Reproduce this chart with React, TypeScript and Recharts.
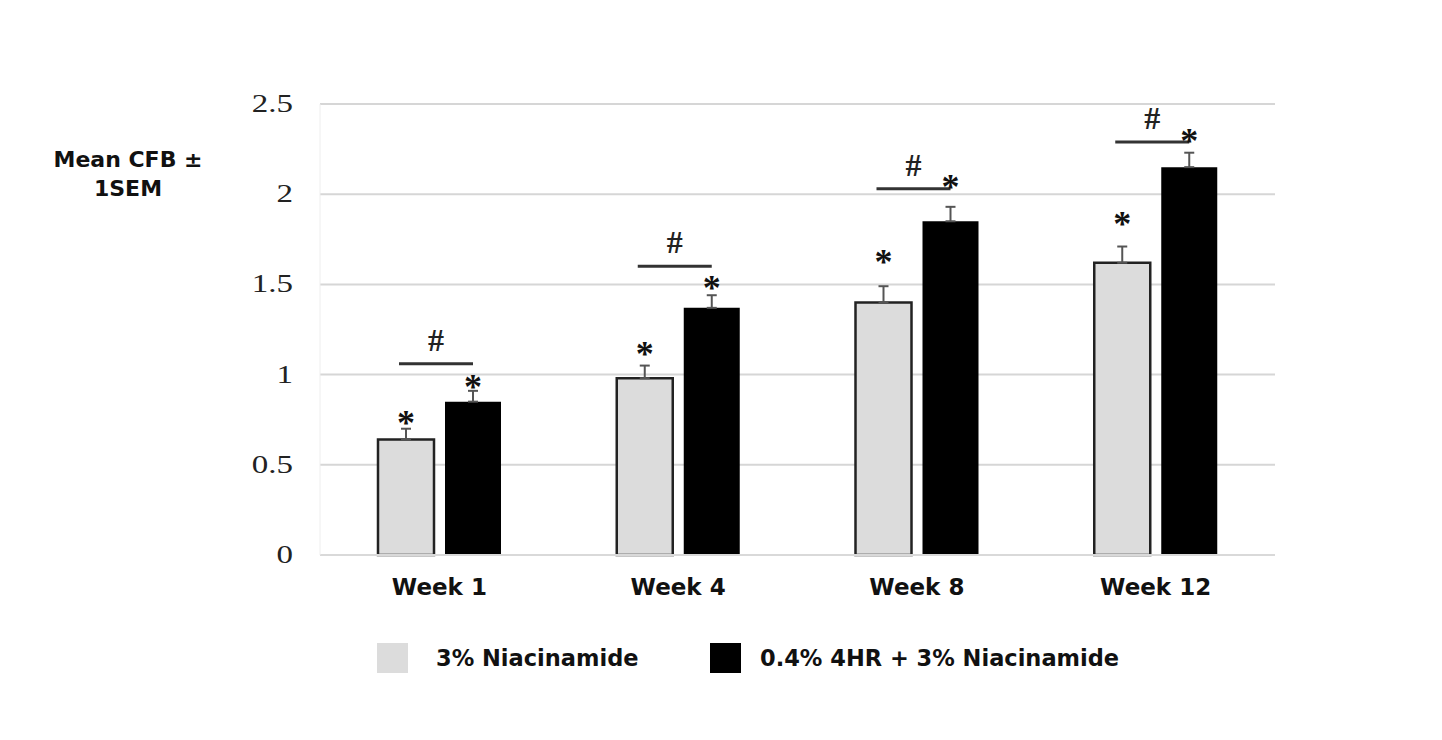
import React from "react";
import { BarChart, Bar, XAxis, YAxis, CartesianGrid, ErrorBar, LabelList } from "recharts";

const weeks = ["Week 1", "Week 4", "Week 8", "Week 12"];
const niacinamide = [0.64, 0.98, 1.4, 1.62];
const niacinamideSem = [0.06, 0.07, 0.09, 0.09];
const combo = [0.85, 1.37, 1.85, 2.15];
const comboSem = [0.06, 0.07, 0.08, 0.08];
// where the significance marks sit, in CFB units
const niacinamideStar = [0.76, 1.14, 1.65, 1.86];
const comboStar = [0.96, 1.51, 2.07, 2.32];
const bracketLevel = [1.06, 1.6, 2.03, 2.29];
const yTicks = [0, 0.5, 1, 1.5, 2, 2.5];
const seriesNames = ["3% Niacinamide", "0.4% 4HR + 3% Niacinamide"];

const GRAY = "#dcdcdc";
const BAR_SIZE = 56;
const BAR_GAP = 11;
const SANS = "'DejaVu Sans', sans-serif";
const SERIF = "'Liberation Serif', 'Times New Roman', serif";

const data = weeks.map((week, i) => ({
  week,
  niacinamide: niacinamide[i],
  niacinamideErr: [0, niacinamideSem[i]],
  combo: combo[i],
  comboErr: [0, comboSem[i]],
}));

function Star({ x, y }: { x: number; y: number }) {
  return (
    <text x={x} y={y + 17} textAnchor="middle" fontFamily={SERIF} fontWeight={700} fontSize={36} fill="#111">
      *
    </text>
  );
}

// asterisk + bracket with "#" above each 3% Niacinamide bar
function NiacinamideMarks(props: any) {
  const { x, y, width, height, index } = props;
  if (x == null || height == null) return null;
  const ppu = height / niacinamide[index];
  const base = y + height;
  const cx = x + width / 2;
  const by = base - bracketLevel[index] * ppu;
  const x1 = cx - 7;
  const x2 = cx + width + BAR_GAP;
  return (
    <g>
      <Star x={cx} y={base - niacinamideStar[index] * ppu} />
      <line x1={x1} x2={x2} y1={by} y2={by} stroke="#333" strokeWidth={3} />
      <text
        x={(x1 + x2) / 2}
        y={by - 13}
        textAnchor="middle"
        fontFamily={SERIF}
        fontWeight={700}
        fontSize={32}
        fill="#222"
      >
        #
      </text>
    </g>
  );
}

function ComboMarks(props: any) {
  const { x, y, width, height, index } = props;
  if (x == null || height == null) return null;
  const ppu = height / combo[index];
  const base = y + height;
  return <Star x={x + width / 2} y={base - comboStar[index] * ppu} />;
}

function YTick({ x, y, payload }: any) {
  return (
    <text
      transform={`translate(${x},${y}) scale(1.32,1)`}
      x={0}
      y={0}
      dy={8}
      textAnchor="end"
      fontFamily={SERIF}
      fontSize={25}
      fill="#222"
    >
      {payload.value}
    </text>
  );
}

function XTick({ x, y, payload }: any) {
  return (
    <text x={x} y={y} dy={8} textAnchor="middle" fontFamily={SANS} fontWeight={700} fontSize={23} fill="#111">
      {payload.value}
    </text>
  );
}

export default function App() {
  return (
    <div style={{ position: "absolute", left: 0, top: 0, width: 1442, height: 740, background: "#fff" }}>
      <div
        style={{
          position: "absolute",
          left: 28,
          top: 145,
          width: 200,
          textAlign: "center",
          fontFamily: SANS,
          fontWeight: 700,
          fontSize: 22,
          lineHeight: "29px",
          color: "#111",
        }}
      >
        Mean CFB ±<br />1SEM
      </div>

      <BarChart
        width={1442}
        height={740}
        data={data}
        margin={{ top: 104, right: 167, bottom: 155, left: 260 }}
        barSize={BAR_SIZE}
        barGap={BAR_GAP}
      >
        <CartesianGrid vertical={false} stroke="#d6d6d6" strokeWidth={2} />
        <XAxis
          dataKey="week"
          height={30}
          axisLine={{ stroke: "#d9d9d9", strokeWidth: 2 }}
          tickLine={false}
          tickSize={0}
          tickMargin={32}
          tick={<XTick />}
        />
        <YAxis
          width={60}
          domain={[0, 2.5]}
          ticks={yTicks}
          axisLine={{ stroke: "#eeeeee" }}
          tickLine={false}
          tickSize={0}
          tickMargin={27}
          tick={<YTick />}
        />
        <Bar dataKey="niacinamide" fill={GRAY} stroke="#222" strokeWidth={2.5} isAnimationActive={false}>
          <ErrorBar dataKey="niacinamideErr" direction="y" width={5} stroke="#555" strokeWidth={2} />
          <LabelList dataKey="niacinamide" content={<NiacinamideMarks />} />
        </Bar>
        <Bar dataKey="combo" fill="#000" isAnimationActive={false}>
          <ErrorBar dataKey="comboErr" direction="y" width={5} stroke="#555" strokeWidth={2} />
          <LabelList dataKey="combo" content={<ComboMarks />} />
        </Bar>
      </BarChart>

      {seriesNames.map((name, i) => (
        <div
          key={name}
          style={{
            position: "absolute",
            left: i === 0 ? 377 : 710,
            top: 643,
            height: 30,
            display: "flex",
            alignItems: "center",
            fontFamily: SANS,
            fontWeight: 700,
            fontSize: 22.5,
            color: "#111",
          }}
        >
          <span style={{ width: 31, height: 30, background: i === 0 ? GRAY : "#000", marginRight: i === 0 ? 28 : 19 }} />
          {name}
        </div>
      ))}
    </div>
  );
}
